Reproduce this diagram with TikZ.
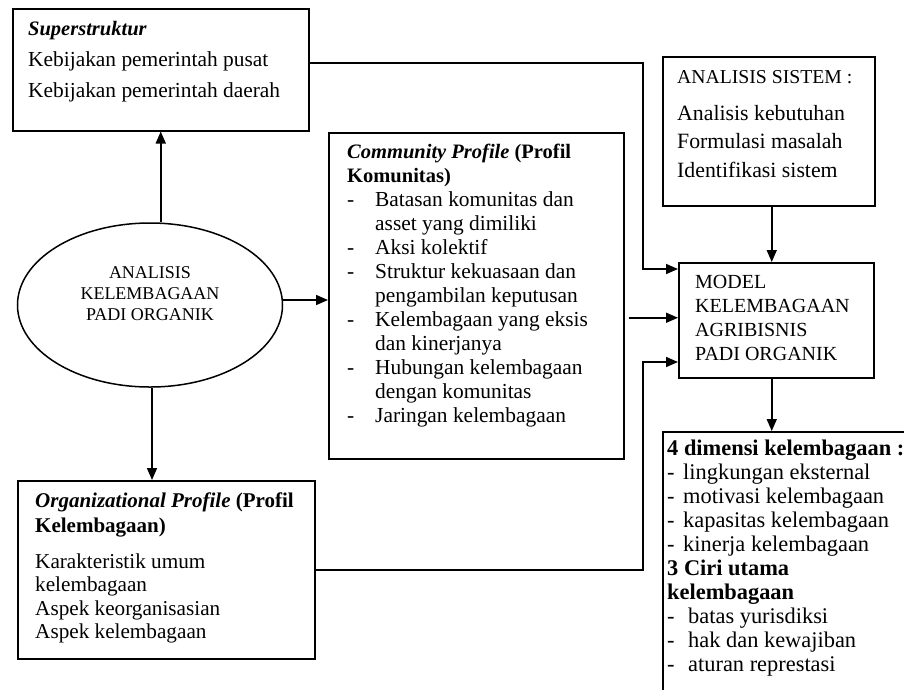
\documentclass[tikz,border=0pt]{standalone}
\usepackage{fontspec}
\setmainfont{Liberation Serif}
\usetikzlibrary{arrows.meta,shapes.geometric}
\newcommand\cpdash{\makebox[28pt][l]{-}}
\newcommand\cpind{\hspace*{28pt}}
\newcommand\dmdash{\makebox[16pt][l]{-}}
\newcommand\dmdashb{\makebox[21pt][l]{-}}
\newcommand\ttlsize{\fontsize{20.5}{24}\selectfont}
\begin{document}
\begin{tikzpicture}[x=1pt,y=-1pt,
  box/.style={draw,line width=1.5pt,inner sep=0pt,anchor=north west},
  txt/.style={anchor=base west,inner sep=0pt,align=left,font=\fontsize{21.4}{24}\selectfont},
  arr/.style={line width=1.6pt,-{Triangle[length=12pt,width=10pt]}},
]
\useasboundingbox (0,0) rectangle (904,689);
\fill[white] (0,0) rectangle (904,689);

% boxes
\node[box,minimum width=296pt,minimum height=122pt] (sup) at (12,8) {};
\node[box,minimum width=295pt,minimum height=326pt] (comm) at (328,132) {};
\node[box,minimum width=212pt,minimum height=149pt] (sys) at (662,56) {};
\node[box,minimum width=195pt,minimum height=115pt] (model) at (678,262) {};
\node[box,minimum width=297pt,minimum height=178pt] (org) at (17,480) {};
\node[box,minimum width=262pt,minimum height=280pt] (dim) at (662,431) {};
\node[draw,line width=1.5pt,ellipse,inner sep=0pt,minimum width=265pt,minimum height=164pt] (ell) at (150,305) {};

% texts (anchor = baseline of the last line)
\node[txt,font=\fontsize{21.4}{31}\selectfont] (supt) at (28,97)
  {{\fontsize{20.5}{31}\selectfont\textbf{\textit{Superstruktur}}}\\Kebijakan pemerintah pusat\\Kebijakan pemerintah daerah};
\node[txt] (commt) at (347,422)
  {{\ttlsize\textbf{\textit{Community Profile} (Profil}}\\{\ttlsize\textbf{Komunitas)}}\\
   \cpdash Batasan komunitas dan\\\cpind asset yang dimiliki\\
   \cpdash Aksi kolektif\\
   \cpdash Struktur kekuasaan dan\\\cpind pengambilan keputusan\\
   \cpdash Kelembagaan yang eksis\\\cpind dan kinerjanya\\
   \cpdash Hubungan kelembagaan\\\cpind dengan komunitas\\
   \cpdash Jaringan kelembagaan};
\node[txt,font=\fontsize{21.8}{28.5}\selectfont] (syst) at (677,177)
  {{\fontsize{19.7}{28.5}\selectfont ANALISIS SISTEM :}\\[8.5pt]Analisis kebutuhan\\Formulasi masalah\\Identifikasi sistem};
\node[txt,font=\fontsize{20}{24}\selectfont] (modelt) at (695,360)
  {MODEL\\KELEMBAGAAN\\AGRIBISNIS\\PADI ORGANIK};
\node[anchor=base,inner sep=0pt,align=center,font=\fontsize{18}{21}\selectfont] (ellt) at (150,320)
  {ANALISIS\\KELEMBAGAAN\\PADI ORGANIK};
\node[txt,font=\fontsize{21.2}{23.5}\selectfont] (orgt) at (35,638.5)
  {{\fontsize{21}{23.5}\selectfont\textbf{\textit{Organizational Profile} (Profil}}\\[1.5pt]{\fontsize{21}{23.5}\selectfont\textbf{Kelembagaan)}}\\[12.5pt]
   Karakteristik umum\\kelembagaan\\Aspek keorganisasian\\Aspek kelembagaan};
\node[txt,font=\fontsize{22.4}{24}\selectfont] (dimt) at (667,671)
  {\textbf{4 dimensi kelembagaan :}\\
   \dmdash lingkungan eksternal\\
   \dmdash motivasi kelembagaan\\
   \dmdash kapasitas kelembagaan\\
   \dmdash kinerja kelembagaan\\
   \textbf{3 Ciri utama}\\
   \textbf{kelembagaan}\\
   \dmdashb batas yurisdiksi\\
   \dmdashb hak dan kewajiban\\
   \dmdashb aturan represtasi};

% connectors
\coordinate (k2) at (643,269);
\coordinate (k3) at (643,362);
\draw[arr] (ell.north -| sup.south) -- (sup.south);
\draw[arr] ([xshift=2pt]ell.south) -- ([xshift=2pt]ell.south |- org.north);
\draw[arr] ([yshift=5pt]ell.east) -- ([yshift=5pt]ell.east -| comm.west);
\draw[arr] ([yshift=7pt]sup.east) -| (k2) -- (k2 -| model.west);
\draw[arr] ([xshift=3pt]sys.south) -- ([xshift=3pt]sys.south |- model.north);
\draw[arr,shorten <=4pt] ([yshift=2.5pt]model.west -| comm.east) -- ([yshift=2.5pt]model.west);
\draw[arr] (org.east) -| (k3) -- (k3 -| model.west);
\draw[arr] ([xshift=-4.5pt]model.south) -- ([xshift=-4.5pt]model.south |- dim.north);
\end{tikzpicture}
\end{document}
